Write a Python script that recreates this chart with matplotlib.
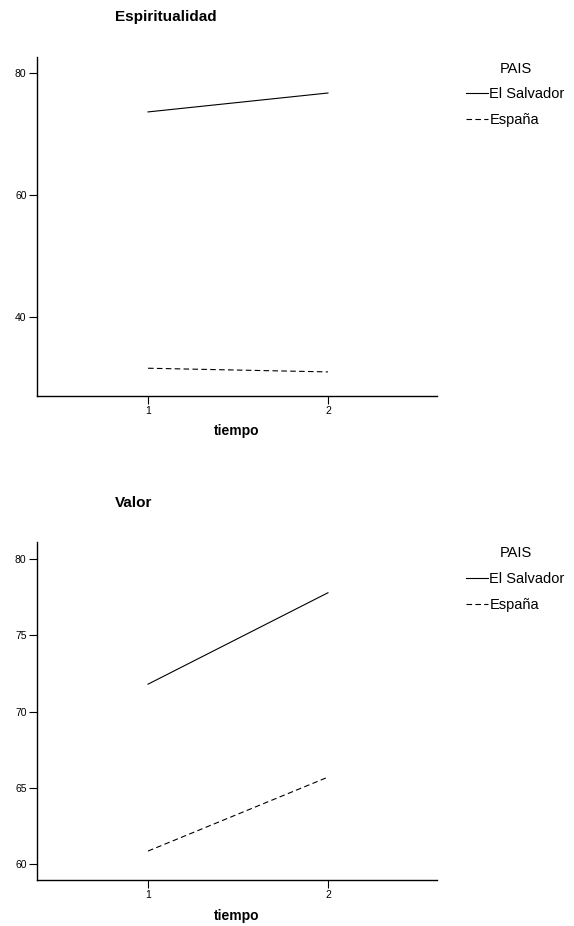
import matplotlib
matplotlib.use("Agg")
import matplotlib.pyplot as plt

plt.rcParams["font.family"] = ["Liberation Sans", "DejaVu Sans"]

# medias marginales estimadas por país y tiempo
tiempo = [1, 2]
paises = ["El Salvador", "España"]
espiritualidad = {"El Salvador": [73.6, 76.7], "España": [31.6, 31.0]}
valor = {"El Salvador": [71.8, 77.8], "España": [60.85, 65.7]}

estilos = {"El Salvador": "-", "España": (0, (5, 3))}

W, H = 574, 926
fig = plt.figure(figsize=(W / 100, H / 100), dpi=100)


def panel(rect, datos, titulo, ylim, yticks, title_y):
    ax = fig.add_axes(rect)
    for p in paises:
        ax.plot(tiempo, datos[p], color="black", lw=0.8, linestyle=estilos[p], label=p)
    ax.set_xlim(0.383, 2.606)
    ax.set_ylim(*ylim)
    ax.set_xticks(tiempo)
    ax.set_yticks(yticks)
    ax.tick_params(direction="out", length=6, width=0.8, labelsize=7.5, pad=1.5)
    for s in ["top", "right"]:
        ax.spines[s].set_visible(False)
    for s in ["left", "bottom"]:
        ax.spines[s].set_linewidth(1.0)
    ax.set_xlabel("tiempo", fontsize=10, fontweight="bold", labelpad=6)
    fig.text(115 / W, 1 - title_y / H, titulo, fontsize=11, fontweight="bold",
             ha="left", va="center")
    ax.legend(title="PAIS", loc="upper left", frameon=False,
              bbox_to_anchor=(1.04, 1.025), fontsize=10.5, title_fontsize=10.5,
              handlelength=1.5, handletextpad=0.1, labelspacing=0.8)
    return ax


panel([37 / W, 1 - 395.7 / H, 400 / W, (395.7 - 57) / H], espiritualidad,
      "Espiritualidad", (27.1, 82.6), [40, 60, 80], 17)
panel([37 / W, 1 - 880 / H, 400 / W, (880 - 541.7) / H], valor,
      "Valor", (58.95, 81.15), [60, 65, 70, 75, 80], 502.7)

fig.savefig("out.png", dpi=100)
